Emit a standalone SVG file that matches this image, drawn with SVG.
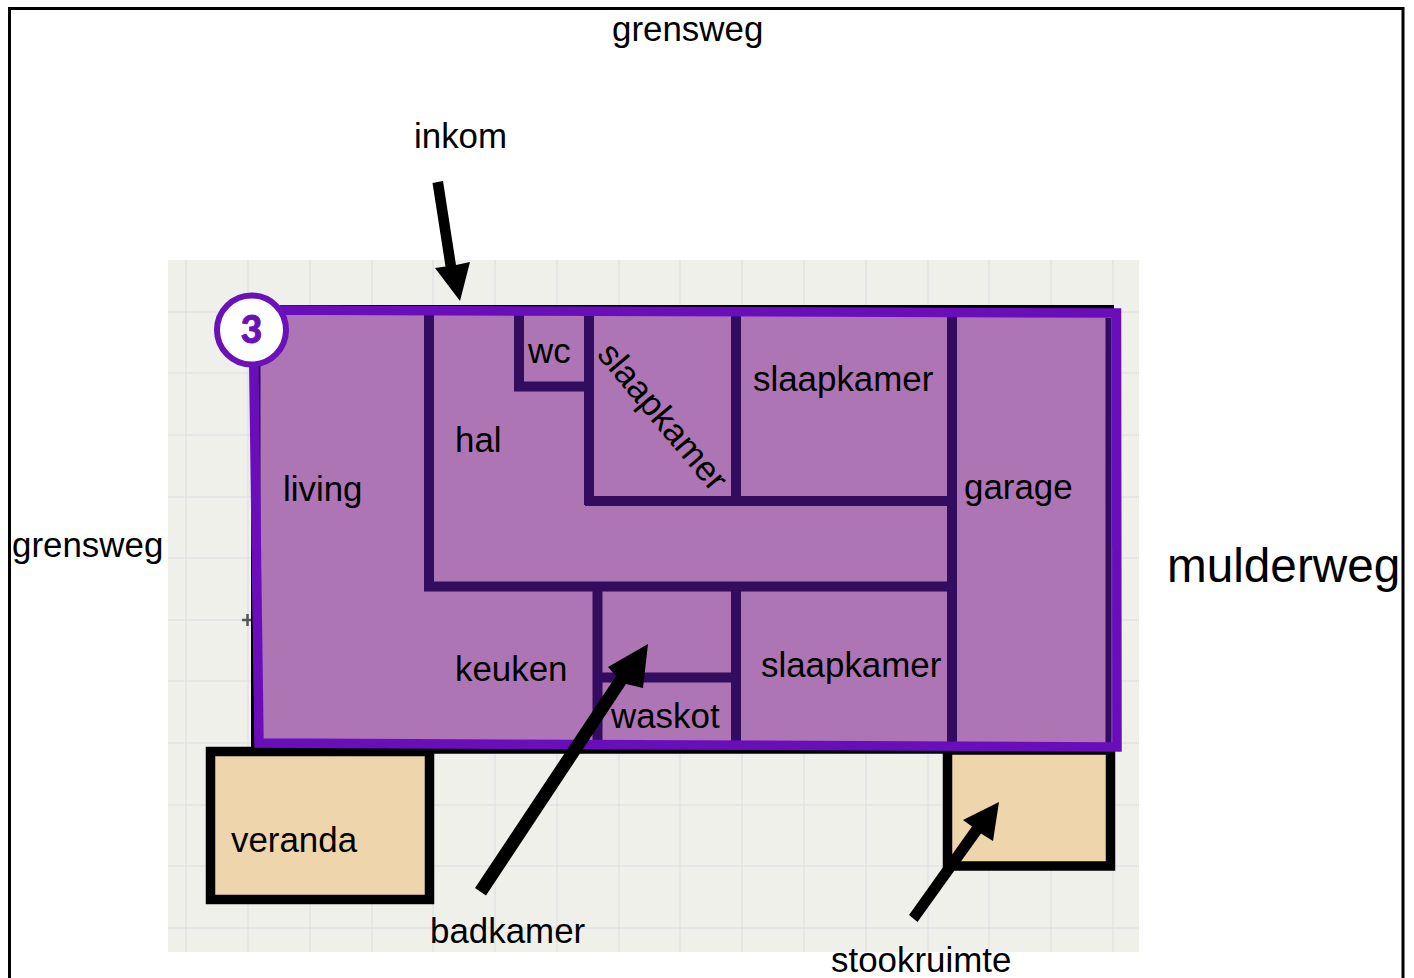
<svg xmlns="http://www.w3.org/2000/svg" width="1414" height="978" viewBox="0 0 1414 978">
<style>
text{font-family:"Liberation Sans",Arial,sans-serif;font-size:34.9px;fill:#000}
.grid{stroke:#e2e2e6;stroke-width:1.5;fill:none}
.wall{stroke:#33095f;stroke-width:10;fill:none}
.blk{stroke:#000;fill:none}
.annex{fill:#efd5ac;stroke:#000;stroke-width:9.5}
.arrow{fill:#000;stroke:none}
</style>
<defs><filter id="soft" x="-5%" y="-5%" width="110%" height="110%"><feGaussianBlur stdDeviation="0.6"/></filter></defs>
<rect x="0" y="0" width="1414" height="978" fill="#fff"/>
<path d="M9.500 978V8.500H1403V978" fill="none" stroke="#000" stroke-width="3"/>
<g id="plan" filter="url(#soft)">
<rect x="168" y="260" width="971" height="692" fill="#f0f0eb"/>
<path class="grid" d="M186 260V952M248 260V952M310 260V952M372 260V952M433 260V952M495 260V952M557 260V952M619 260V952M680 260V952M742 260V952M804 260V952M866 260V952M928 260V952M989 260V952M1051 260V952M1113 260V952M168 312H1139M168 373H1139M168 435H1139M168 497H1139M168 558H1139M168 620H1139M168 681H1139M168 743H1139M168 805H1139M168 866H1139M168 928H1139"/>
<path d="M242 620H253M247.500 614V626" stroke="#555" stroke-width="2.500" fill="none"/>
<path class="blk" stroke-width="5" d="M280 307.500H1114M253.500 360V750"/>
<path class="blk" stroke-width="6.500" d="M210 750.500H955"/>
<g id="veranda"><rect class="annex" x="210.500" y="751.500" width="219" height="148"/></g>
<g id="stookruimte-box"><path class="annex" d="M947.500 750V866H1110.500V750Z"/></g>
<g id="building">
<polygon points="253,310 1116.500,313 1117,747 259,743" fill="#ae74b4"/>
<path class="wall" d="M257.500 320V560M1108.500 318V743" style="stroke-width:6"/>
<path class="wall" d="M429 314V586M424 586.500H952M952 316V745M585 501H952M589 314V505M736 314V501M736 586V745M519 314V386.500H589M597.500 586V745M597.500 677.500H736"/>
<polygon points="253,310 1116.500,313 1117,747 259,743" fill="none" stroke="#6a11ba" stroke-width="9.500"/>
</g>
</g>
<g id="badge">
<circle cx="251.500" cy="330" r="34.500" fill="#fff" stroke="#6a11ba" stroke-width="6"/>
<text x="251.500" y="343" text-anchor="middle" style="font-family:Lato,Inter,sans-serif;font-size:37px;font-weight:900;fill:#6a11ba;stroke:#6a11ba;stroke-width:1">3</text>
</g>
<g id="connectors">
<polygon class="arrow" points="432.500,183 443,181 456,265 470,262 460,301 435,268 445.500,266.500"/>
<polygon class="arrow" points="475,888 486,895.500 626,684 643,688 648,644 608,667 616,676"/>
<polygon class="arrow" points="909,915 917.500,922 981,833.500 993,841 999,802 963,820 972,826.500"/>
</g>
<g id="labels">
<text x="612" y="41">grensweg</text>
<text x="12" y="557">grensweg</text>
<text x="414" y="148">inkom</text>
<text x="1167" y="582" style="font-size:47.700px">mulderweg</text>
<text x="528" y="363">wc</text>
<text x="753" y="391">slaapkamer</text>
<text transform="translate(596,355) rotate(50)">slaapkamer</text>
<text x="455" y="452">hal</text>
<text x="283" y="501">living</text>
<text x="964" y="499">garage</text>
<text x="455" y="681">keuken</text>
<text x="761" y="677">slaapkamer</text>
<text x="611" y="728">waskot</text>
<text x="231" y="852">veranda</text>
<text x="430" y="943">badkamer</text>
<text x="831" y="972">stookruimte</text>
</g>
</svg>
